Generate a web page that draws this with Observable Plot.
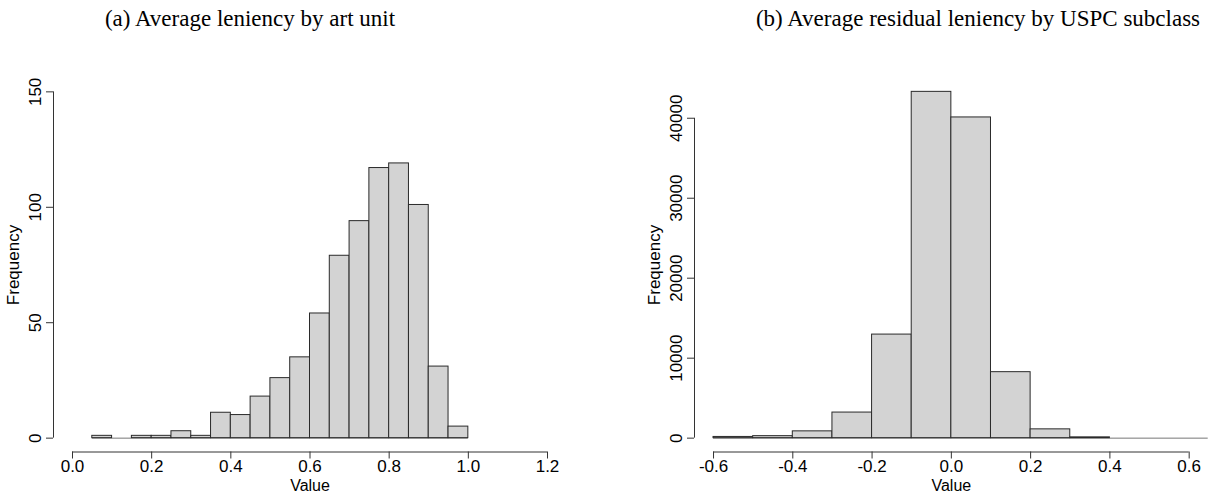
<!DOCTYPE html>
<html>
<head>
<meta charset="utf-8">
<script src="https://cdn.jsdelivr.net/npm/d3@7"></script>
<script src="https://cdn.jsdelivr.net/npm/@observablehq/plot@0.6"></script>
<style>
  html, body { margin: 0; padding: 0; background: #fff; }
  #page { position: relative; width: 1211px; height: 494px; overflow: hidden; background: #fff; }
  .title { position: absolute; top: 6px; font-family: "Liberation Serif", "DejaVu Serif", serif; font-size: 23px; color: #000; white-space: nowrap; transform: translateX(-50%); }
  .panel { position: absolute; top: 40px; }
  .panel svg { overflow: visible; }
</style>
</head>
<body>
<div id="page"></div>
<script>
// Panel (a): art-unit leniency histogram
const artUnitTitle = "(a) Average leniency by art unit";
const artUnitEdges = [0.05, 0.10, 0.15, 0.20, 0.25, 0.30, 0.35, 0.40, 0.45, 0.50,
                      0.55, 0.60, 0.65, 0.70, 0.75, 0.80, 0.85, 0.90, 0.95, 1.00];
const artUnitCounts = [1, 0, 1, 1, 3, 1, 11, 10, 18, 26, 35, 54, 79, 94, 117, 119, 101, 31, 5];
const artUnitXTicks = [0.0, 0.2, 0.4, 0.6, 0.8, 1.0, 1.2];
const artUnitYTicks = [0, 50, 100, 150];

// Panel (b): residual leniency by USPC subclass
const subclassTitle = "(b) Average residual leniency by USPC subclass";
const subclassEdges = [-0.6, -0.5, -0.4, -0.3, -0.2, -0.1, 0.0, 0.1, 0.2, 0.3, 0.4, 0.5, 0.6, 0.7];
const subclassCounts = [150, 250, 850, 3200, 12950, 43300, 40100, 8250, 1100, 100, 0, 0, 0];
const subclassXTicks = [-0.6, -0.4, -0.2, 0.0, 0.2, 0.4, 0.6];
const subclassYTicks = [0, 10000, 20000, 30000, 40000];

const xLabel = "Value";
const yLabel = "Frequency";

const FONT = "'Liberation Sans', Arial, sans-serif";

// R-style 4% padding around the plotting limits
function pad([lo, hi]) {
  const d = (hi - lo) * 0.04;
  return [lo - d, hi + d];
}

function binsOf(edges, counts) {
  return counts.map((c, i) => ({x1: edges[i], x2: edges[i + 1], count: c}));
}

// one decimal, plain hyphen for negatives
const fmtX = d => (Math.abs(d) < 1e-9 ? 0 : d).toFixed(1);

function histogram({edges, counts, xTicks, yTicks, xlim, ylim, width, marginLeft, marginRight}) {
  const xDom = pad(xlim);
  const yDom = pad(ylim);
  const bins = binsOf(edges, counts);
  return Plot.plot({
    width,
    height: 454,
    marginLeft,
    marginRight,
    marginTop: 37.5,
    marginBottom: 42.5,
    style: {fontFamily: FONT, fontSize: "17px", color: "#000", background: "transparent"},
    x: {domain: xDom},
    y: {domain: yDom},
    marks: [
      // zero-height bins still show as a line along the baseline
      Plot.ruleY([0], {x1: edges[0], x2: edges[edges.length - 1], stroke: "#777", strokeWidth: 1, clip: true}),
      Plot.rectY(bins, {x1: "x1", x2: "x2", y: "count", fill: "#d3d3d3", stroke: "#2a2a2a", strokeWidth: 1, clip: true}),
      // axis lines spanning the tick range only
      Plot.ruleY([yDom[0]], {x1: xTicks[0], x2: xTicks[xTicks.length - 1], stroke: "#333"}),
      Plot.ruleX([xDom[0]], {y1: yTicks[0], y2: yTicks[yTicks.length - 1], stroke: "#333"}),
      Plot.axisX({ticks: xTicks, tickSize: 7, tickPadding: 1, tickFormat: fmtX, label: null, stroke: "#333", fontSize: 17}),
      Plot.axisY({ticks: yTicks, tickSize: 7, tickFormat: () => "", label: null, stroke: "#333"}),
      Plot.text(yTicks, {y: d => d, text: d => String(d), frameAnchor: "left", dx: -17.5, rotate: -90, textAnchor: "middle", lineAnchor: "middle", fontSize: 17, fill: "#000"}),
      Plot.text([xLabel], {frameAnchor: "bottom", dy: 34, lineAnchor: "middle", fontSize: 16, fill: "#000"}),
      Plot.text([yLabel], {frameAnchor: "left", dx: -40, rotate: -90, textAnchor: "middle", lineAnchor: "middle", fontSize: 17, fill: "#000"})
    ]
  });
}

const page = document.getElementById("page");

function addTitle(text, cx) {
  const t = document.createElement("div");
  t.className = "title";
  t.style.left = cx + "px";
  t.textContent = text;
  page.appendChild(t);
}

function addPanel(svg, left) {
  const wrap = document.createElement("div");
  wrap.className = "panel";
  wrap.style.left = left + "px";
  wrap.appendChild(svg);
  page.appendChild(wrap);
}

addTitle(artUnitTitle, 250);
addTitle(subclassTitle, 978);

addPanel(histogram({
  edges: artUnitEdges, counts: artUnitCounts,
  xTicks: artUnitXTicks, yTicks: artUnitYTicks,
  xlim: [0, 1.2], ylim: [0, 150],
  width: 600, marginLeft: 53, marginRight: 34
}), 0);

addPanel(histogram({
  edges: subclassEdges, counts: subclassCounts,
  xTicks: subclassXTicks, yTicks: subclassYTicks,
  xlim: [-0.6, 0.6], ylim: [0, d3.max(subclassCounts)],
  width: 611, marginLeft: 94, marginRight: 3.3
}), 600);
</script>
</body>
</html>
